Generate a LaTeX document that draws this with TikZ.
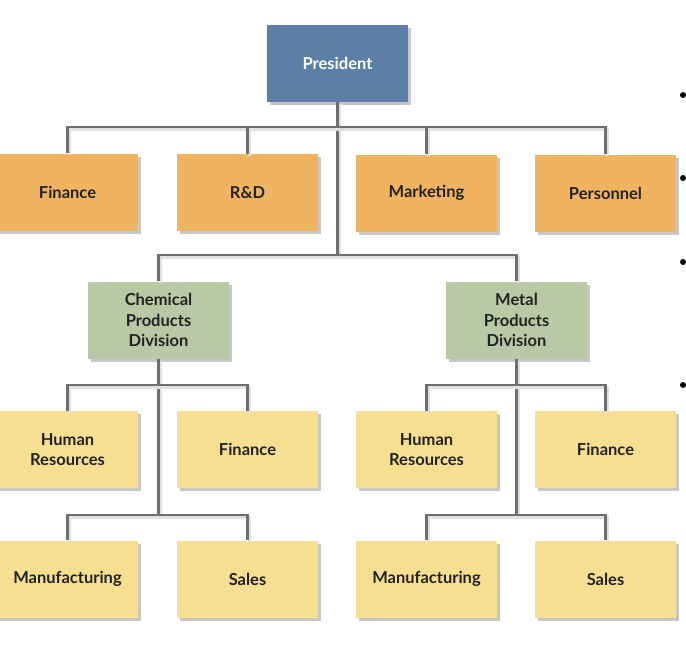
\documentclass[tikz,border=0pt]{standalone}
\usepackage{fontspec}
\setmainfont{Lato}
\usetikzlibrary{shadows}
\definecolor{presblue}{HTML}{5B7FA6}
\definecolor{deptorange}{HTML}{F0B460}
\definecolor{divgreen}{HTML}{B9C9A6}
\definecolor{unityellow}{HTML}{F7DF92}
\definecolor{linegray}{HTML}{6E6E6E}
\definecolor{txt}{HTML}{222222}
\tikzset{
  box/.style={rectangle, minimum width=141pt, minimum height=77pt, inner sep=2pt,
    align=center, font=\fontsize{16.5}{20.5}\selectfont\bfseries, text=txt,
    drop shadow={shadow xshift=3pt, shadow yshift=-3pt, fill=black, opacity=0.22}},
  pres/.style={box, fill=presblue, text=white},
  dept/.style={box, fill=deptorange},
  div/.style={box, fill=divgreen},
  unit/.style={box, fill=unityellow},
  conn/.style={draw=linegray, line width=2.8pt,
    preaction={draw=black!12, line width=3pt, transform canvas={xshift=2pt,yshift=-2pt}}},
  bul/.style={circle, fill=black, inner sep=0pt, minimum size=6pt}
}
\begin{document}
\begin{tikzpicture}[x=1pt,y=-1pt]
\useasboundingbox (0,0) rectangle (686,654);
\node[pres] (pres) at (337.5,63.5) {President};
\node[dept] (fin) at (67.5,192) {Finance};
\node[dept] (rd) at (247.5,192.5) {R\&D};
\node[dept] (mkt) at (426.5,193) {Marketing};
\node[dept] (pers) at (605.5,193) {Personnel};
\node[div] (chem) at (158.5,320) {Chemical\\Products\\Division};
\node[div] (metal) at (516.5,320) {Metal\\Products\\Division};
\node[unit] (hr1) at (67.5,449.5) {Human\\Resources};
\node[unit] (fi1) at (247.5,449.5) {Finance};
\node[unit] (hr2) at (426.5,449.5) {Human\\Resources};
\node[unit] (fi2) at (605.5,449.5) {Finance};
\node[unit] (mf1) at (67.5,579) {Manufacturing};
\node[unit] (sa1) at (247.5,579) {Sales};
\node[unit] (mf2) at (426.5,579) {Manufacturing};
\node[unit] (sa2) at (605.5,579) {Sales};
% connectors
\draw[conn] (pres.south) -- (pres.south |- 0,255);
\draw[conn] (fin.north) -- (fin.north |- 0,127) -| (pers.north);
\draw[conn] (rd.north) -- (rd.north |- 0,127);
\draw[conn] (mkt.north) -- (mkt.north |- 0,127);
\draw[conn] (chem.north) -- (chem.north |- 0,255) -| (metal.north);
\draw[conn] (chem.south) -- (chem.south |- 0,515);
\draw[conn] (hr1.north) -- (hr1.north |- 0,385) -| (fi1.north);
\draw[conn] (mf1.north) -- (mf1.north |- 0,515) -| (sa1.north);
\draw[conn] (metal.south) -- (metal.south |- 0,515);
\draw[conn] (hr2.north) -- (hr2.north |- 0,385) -| (fi2.north);
\draw[conn] (mf2.north) -- (mf2.north |- 0,515) -| (sa2.north);
% bullets at right edge
\node[bul] (b1) at (683,95) {};
\node[bul] (b2) at (683,178) {};
\node[bul] (b3) at (683,262) {};
\node[bul] (b4) at (683,385) {};
\end{tikzpicture}
\end{document}
